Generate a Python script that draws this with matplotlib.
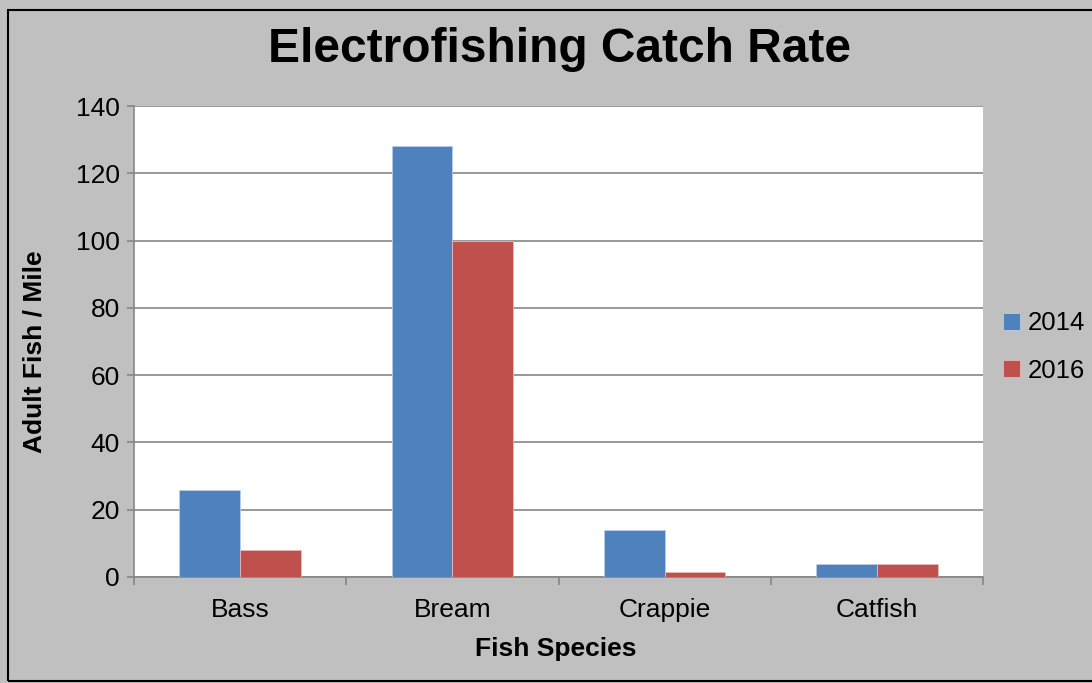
import matplotlib.pyplot as plt
from matplotlib.patches import Rectangle
import numpy as np

species = ["Bass", "Bream", "Crappie", "Catfish"]
rate_2014 = [26, 128, 14, 4]
rate_2016 = [8, 100, 1.5, 4]
years = ["2014", "2016"]

plt.rcParams["font.family"] = ["Liberation Sans", "DejaVu Sans"]

fig = plt.figure(figsize=(10.92, 6.83), dpi=100, facecolor="#C0C0C0")
ax = fig.add_axes([134 / 1092, 1 - 577 / 683, (983 - 134) / 1092, (577 - 106) / 683])
ax.set_facecolor("white")

x = np.arange(len(species))
w = 1 / 3.5
b1 = ax.bar(x - w / 2, rate_2014, w, color="#4F81BD", edgecolor="#B9CDE5", linewidth=0.6, label=years[0], zorder=3)
b2 = ax.bar(x + w / 2, rate_2016, w, color="#C0504D", edgecolor="#E6B9B8", linewidth=0.6, label=years[1], zorder=3)

ax.set_ylim(0, 140)
ax.set_xlim(-0.5, len(species) - 0.5)
ax.set_yticks(range(0, 141, 20))
ax.tick_params(axis="y", labelsize=19, length=5, color="#868686", width=1.2, pad=5)
ax.yaxis.grid(True, color="#868686", linewidth=1.2, zorder=0)

ax.set_xticks(x)
ax.set_xticklabels(species, fontsize=19)
ax.tick_params(axis="x", length=0, pad=15)
ax.set_xticks(np.arange(-0.5, len(species)), minor=True)
ax.tick_params(axis="x", which="minor", length=6, color="#868686", width=1.2)

for side in ["top", "right"]:
    ax.spines[side].set_visible(False)
for side in ["left", "bottom"]:
    ax.spines[side].set_color("#868686")
    ax.spines[side].set_linewidth(1.2)

fig.text(560 / 1092, 1 - 50 / 683, "Electrofishing Catch Rate", fontsize=34.5, fontweight="bold",
         ha="center", va="center")
fig.text(556 / 1092, 1 - 649 / 683, "Fish Species", fontsize=19, fontweight="bold", ha="center", va="center")
fig.text(35 / 1092, 1 - 352 / 683, "Adult Fish / Mile", fontsize=19, fontweight="bold", rotation=90,
         ha="center", va="center")

leg = fig.legend(handles=[b1, b2], loc="center left", bbox_to_anchor=(1003 / 1092, 1 - 347 / 683),
                 frameon=False, fontsize=18.5, handlelength=0.65, handleheight=0.65, handletextpad=0.3,
                 labelspacing=0.9, borderpad=0, borderaxespad=0)

fig.patches.append(Rectangle((8 / 1092, 1 - 681 / 683), 1.1, (681 - 10) / 683, transform=fig.transFigure,
                             fill=False, edgecolor="black", linewidth=1.5, zorder=10))

fig.savefig("out.png", dpi=100, facecolor=fig.get_facecolor())
